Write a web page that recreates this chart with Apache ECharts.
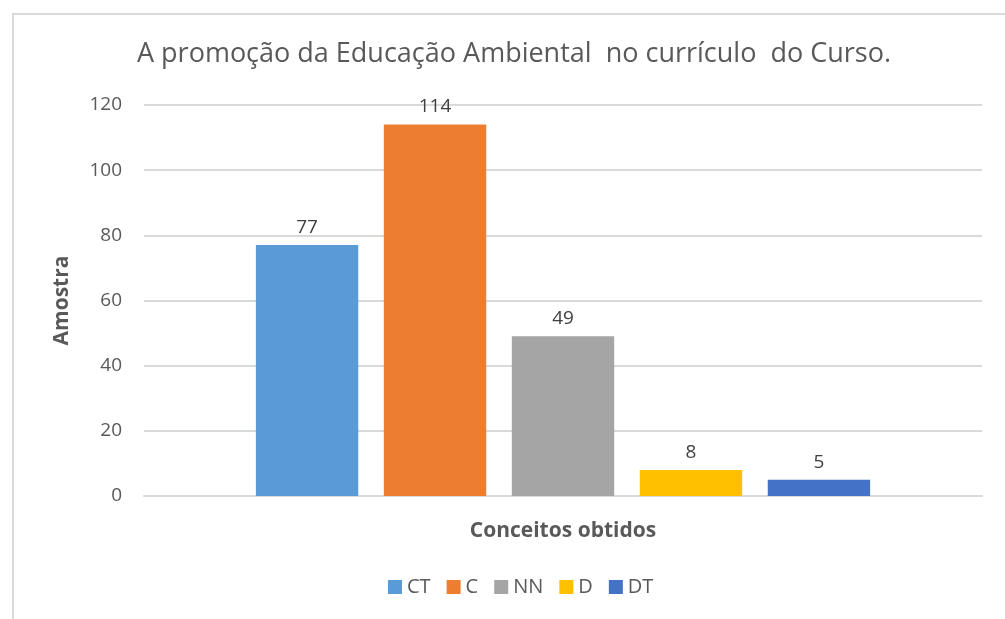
<!DOCTYPE html>
<html>
<head>
<meta charset="utf-8">
<script src="https://cdn.jsdelivr.net/npm/echarts@6/dist/echarts.min.js"></script>
<style>
  html, body { margin: 0; padding: 0; background: #fff; }
  #frame { position: absolute; left: 12px; top: 13px; width: 1000px; height: 620px; border: 2px solid #d9d9d9; box-sizing: border-box; }
  #chart { position: absolute; left: 0; top: 0; width: 1005px; height: 619px; }
</style>
</head>
<body>
<div id="frame"></div>
<div id="chart"></div>
<script>
  // dados do gráfico
  const categorias = ['Conceitos obtidos'];
  const series_nomes = ['CT', 'C', 'NN', 'D', 'DT'];
  const valores = [77, 114, 49, 8, 5];
  const cores = ['#5b9bd5', '#ed7d31', '#a5a5a5', '#ffc000', '#4472c4'];
  const yTicks = [0, 20, 40, 60, 80, 100, 120];

  let myChart = echarts.init(document.getElementById('chart'));

  // uma série por conceito, todas na mesma categoria
  let series = series_nomes.map(function (nome, i) {
    return {
      name: nome,
      type: 'bar',
      data: [valores[i]],
      itemStyle: { color: cores[i] },
      barGap: '25%',
      barCategoryGap: '26.7%',
      label: {
        show: true,
        position: 'top',
        distance: 8,
        color: '#404040',
        fontSize: 19,
        fontFamily: 'Open Sans'
      }
    };
  });

  myChart.setOption({
    animation: false,
    title: {
      text: 'A promoção da Educação Ambiental  no currículo  do Curso.',
      left: 509,
      textAlign: 'center',
      top: 36,
      textStyle: { fontSize: 27, fontWeight: 'normal', color: '#595959', fontFamily: 'Open Sans' }
    },
    legend: {
      data: series_nomes,
      bottom: 17,
      left: 383,
      itemWidth: 14,
      itemHeight: 14,
      itemGap: 16,
      icon: 'rect',
      textStyle: { fontSize: 20, color: '#595959', fontFamily: 'Open Sans' }
    },
    grid: { left: 144, right: 23, top: 105, bottom: 123 },
    xAxis: {
      type: 'category',
      data: categorias,
      name: 'Conceitos obtidos',
      nameLocation: 'middle',
      nameGap: 25,
      nameTextStyle: { fontSize: 21, fontWeight: 'bold', color: '#595959', fontFamily: 'Open Sans' },
      axisLabel: { show: false },
      axisTick: { show: false },
      axisLine: { lineStyle: { color: '#d9d9d9', width: 2 } }
    },
    yAxis: {
      type: 'value',
      min: yTicks[0],
      max: yTicks[yTicks.length - 1],
      interval: 20,
      name: 'Amostra',
      nameLocation: 'middle',
      nameGap: 71,
      nameTextStyle: { fontSize: 21, fontWeight: 'bold', color: '#595959', fontFamily: 'Open Sans' },
      axisLabel: { fontSize: 19, color: '#595959', margin: 22, padding: [5, 0, 0, 0], fontFamily: 'Open Sans' },
      axisLine: { show: false },
      axisTick: { show: false },
      splitLine: { lineStyle: { color: '#d9d9d9', width: 2 } }
    },
    series: series
  });
</script>
</body>
</html>
